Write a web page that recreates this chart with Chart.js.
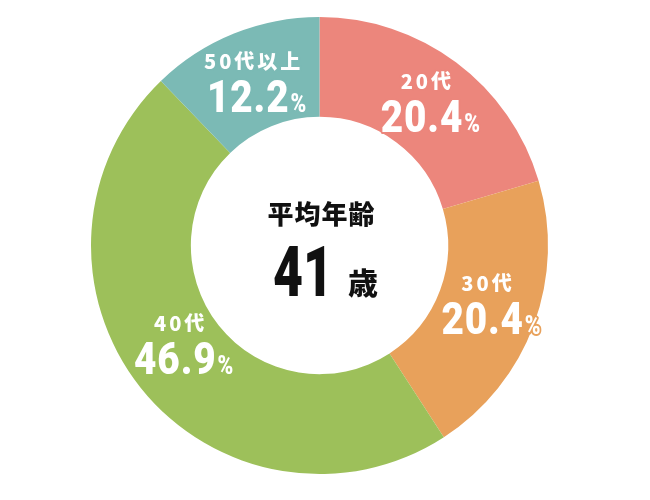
<!DOCTYPE html>
<html lang="ja">
<head>
<meta charset="utf-8">
<script src="https://cdn.jsdelivr.net/npm/chart.js@4.4.1/dist/chart.umd.min.js"></script>
<style>
  html, body { margin: 0; padding: 0; background: #fff; }
  #wrap { width: 650px; height: 500px; }
</style>
</head>
<body>
<div id="wrap"><canvas id="ageChart" width="650" height="500"></canvas></div>
<script>
'use strict';

// --- data ---
const AGE_LABELS = ['20代', '30代', '40代', '50代以上'];
const AGE_SHARES = [20.4, 20.4, 46.9, 12.2];
const AVG_TITLE = '平均年齢';
const AVG_VALUE = '41';
const AVG_UNIT = '歳';

// --- look ---
const COLORS = ['#ec867c', '#e8a15b', '#9dc05a', '#7bbab5'];
const LABEL_NUDGE_Y = [0, -3, -13, 2]; // small vertical tweaks per slice label
const JP = '"Noto Sans CJK JP", "Noto Sans", sans-serif';
const NUM = 'Roboto, "Liberation Sans", sans-serif';

// draw text squeezed horizontally (the original uses a condensed face)
function squeezed(ctx, text, y, font, sx, spacing) {
  ctx.font = font;
  ctx.letterSpacing = spacing || '0px';
  const w = ctx.measureText(text).width * sx;
  return {
    w,
    draw(left, stroke) {
      ctx.save();
      ctx.translate(left, y);
      ctx.scale(sx, 1);
      ctx.font = font;
      ctx.letterSpacing = spacing || '0px';
      ctx.textAlign = 'left';
      ctx.textBaseline = 'alphabetic';
      if (stroke) {
        ctx.lineWidth = 4;
        ctx.lineJoin = 'round';
        ctx.strokeStyle = stroke;
        ctx.strokeText(text, 0, 0);
      }
      ctx.fillText(text, 0, 0);
      ctx.restore();
    }
  };
}

const sliceLabels = {
  id: 'sliceLabels',
  afterDraw(chart) {
    const ctx = chart.ctx;
    const arcs = chart.getDatasetMeta(0).data;
    ctx.save();
    arcs.forEach((arc, i) => {
      const p = arc.getProps(['x', 'y', 'startAngle', 'endAngle', 'innerRadius', 'outerRadius'], true);
      const mid = (p.startAngle + p.endAngle) / 2;
      const r = (p.innerRadius + p.outerRadius) / 2;
      const mx = p.x + Math.cos(mid) * r;
      const my = p.y + Math.sin(mid) * r + LABEL_NUDGE_Y[i];
      const edge = COLORS[i];

      ctx.fillStyle = '#fff';
      // category line
      const cat = squeezed(ctx, AGE_LABELS[i], my - 13, `900 20px ${JP}`, 1, '3px');
      cat.draw(mx - cat.w / 2 + 1, edge);

      // percentage line
      const num = squeezed(ctx, AGE_SHARES[i].toFixed(1), my + 30, `900 45px ${NUM}`, 0.86, '1px');
      const pct = squeezed(ctx, '%', my + 30, `900 25px ${NUM}`, 0.85, '0px');
      const left = mx + 4 - (num.w + pct.w + 1) / 2;
      num.draw(left, edge);
      pct.draw(left + num.w + 1, edge);
    });

    // centre text
    const c = arcs[0];
    ctx.fillStyle = '#111';
    const title = squeezed(ctx, AVG_TITLE, c.y - 22, `900 26px ${JP}`, 1, '1px');
    title.draw(c.x + 2 - title.w / 2);

    const val = squeezed(ctx, AVG_VALUE, c.y + 50, `900 70px ${NUM}`, 0.74, '0px');
    const unit = squeezed(ctx, AVG_UNIT, c.y + 48, `900 30px ${JP}`, 1, '0px');
    const gap = 15;
    const start = c.x + 6 - (val.w + gap + unit.w) / 2;
    val.draw(start);
    unit.draw(start + val.w + gap);
    ctx.restore();
  }
};

new Chart(document.getElementById('ageChart'), {
  type: 'doughnut',
  data: {
    labels: AGE_LABELS,
    datasets: [{
      data: AGE_SHARES,
      backgroundColor: COLORS,
      borderWidth: 0,
      hoverOffset: 0
    }]
  },
  options: {
    responsive: false,
    animation: false,
    cutout: '56.3%',
    layout: { padding: { left: 91, right: 102, top: 17, bottom: 26 } },
    plugins: {
      legend: { display: false },
      tooltip: { enabled: false }
    }
  },
  plugins: [sliceLabels]
});
</script>
</body>
</html>
